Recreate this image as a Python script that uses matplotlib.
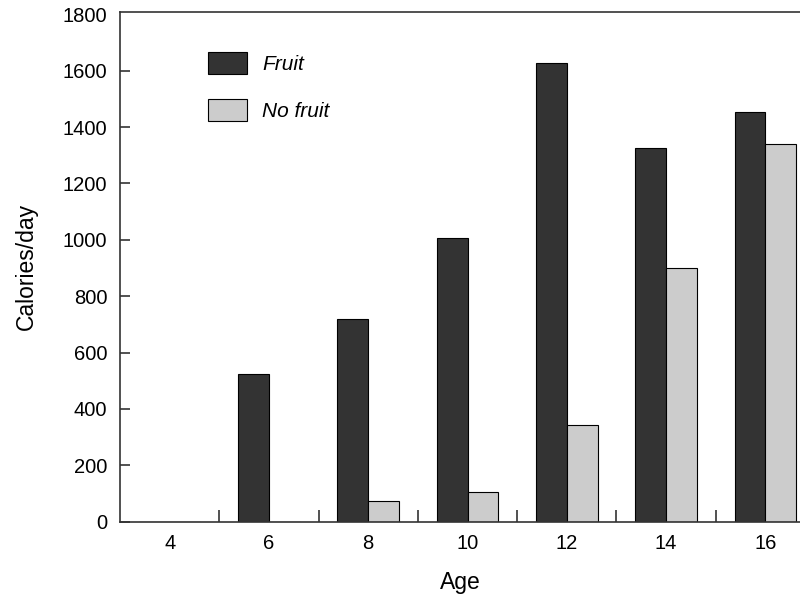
import matplotlib.pyplot as plt
import numpy as np

ages = ["4", "6", "8", "10", "12", "14", "16"]
fruit = [0, 525, 720, 1005, 1628, 1327, 1453]
no_fruit = [0, 0, 72, 105, 344, 900, 1340]

plt.rcParams["font.family"] = ["Liberation Sans", "DejaVu Sans"]

fig = plt.figure(figsize=(8, 5.96), dpi=100)
ax = fig.add_axes([0.15, 0.1247, 0.85, 0.855])

x = np.arange(len(ages))
w = 0.31
ax.bar(x - w / 2, fruit, w, color="#333333", edgecolor="black", linewidth=0.8, label="Fruit")
ax.bar(x + w / 2, no_fruit, w, color="#cccccc", edgecolor="black", linewidth=0.8, label="No fruit")

ax.set_xlim(-0.5, 6.348)
ax.set_ylim(0, 1808)
ax.set_yticks(range(0, 1801, 200))
ax.set_xticks(x)
ax.set_xticklabels(ages)
ax.set_xticks(x[:-1] + 0.5, minor=True)

ax.spines["right"].set_visible(False)
for s in ["left", "top", "bottom"]:
    ax.spines[s].set_color("#333333")
    ax.spines[s].set_linewidth(1.2)

ax.tick_params(axis="y", direction="in", length=7, width=1.2, color="#333333", labelsize=14.5, pad=9)
ax.tick_params(axis="x", which="major", length=0, labelsize=14.5, pad=9)
ax.tick_params(axis="x", which="minor", direction="in", length=9, width=1.2, color="#333333")
# no tick mark at 1800, it sits on the top spine
ax.yaxis.get_major_ticks()[-1].tick1line.set_visible(False)

ax.set_xlabel("Age", fontsize=16.5, labelpad=13)
ax.set_ylabel("Calories/day", fontsize=16.5, labelpad=18)

leg = ax.legend(loc="upper left", bbox_to_anchor=(0.129, 0.921), frameon=False,
                borderpad=0, borderaxespad=0, handlelength=1.9, handleheight=1.25,
                handletextpad=0.7, labelspacing=1.2,
                prop={"size": 15, "style": "italic", "family": "Liberation Sans"})

fig.savefig("out.png", dpi=100)
